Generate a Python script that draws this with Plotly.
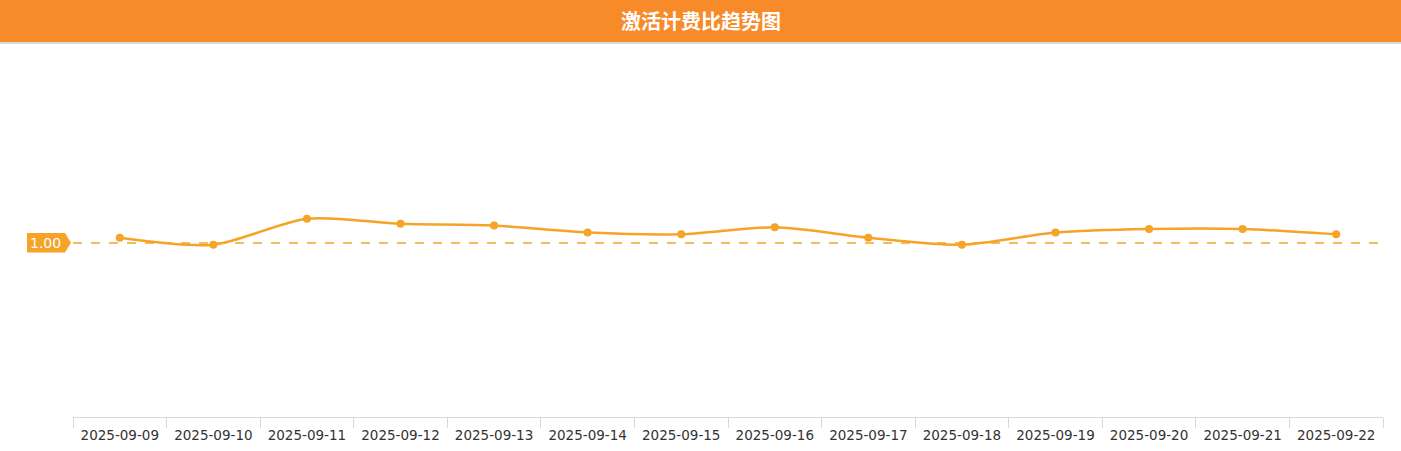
import plotly.graph_objects as go

dates = ["2025-09-09", "2025-09-10", "2025-09-11", "2025-09-12", "2025-09-13",
         "2025-09-14", "2025-09-15", "2025-09-16", "2025-09-17", "2025-09-18",
         "2025-09-19", "2025-09-20", "2025-09-21", "2025-09-22"]
ratio = [1.03, 0.99, 1.14, 1.11, 1.10, 1.06, 1.05, 1.09, 1.03, 0.99,
         1.06, 1.08, 1.08, 1.05]
ref_value = 1.00
ref_label = "1.00"
title = "激活计费比趋势图"

W, H = 1401, 451
L, R, T, B = 73, 18, 69, 34
PW, PH = W - L - R, H - T - B

ORANGE = "#F78A29"
LINE = "#F5A427"


def px(x):
    return (x - L) / PW


def py(y):
    return (H - B - y) / PH


fig = go.Figure()
fig.add_trace(go.Scatter(
    x=dates, y=ratio, mode="lines+markers",
    line=dict(color=LINE, width=2.5, shape="spline", smoothing=0.8),
    marker=dict(color=LINE, size=8),
    hoverinfo="x+y", showlegend=False, cliponaxis=False,
))

# reference line
fig.add_shape(type="line", xref="paper", yref="y", x0=0, x1=1, y0=ref_value, y1=ref_value,
              line=dict(color=LINE, width=1.3, dash="dash"), layer="below")

# title bar
fig.add_shape(type="rect", xref="paper", yref="paper", x0=px(0), x1=px(W), y0=py(42), y1=py(0),
              fillcolor=ORANGE, line=dict(width=0), layer="above")
fig.add_shape(type="rect", xref="paper", yref="paper", x0=px(0), x1=px(W), y0=py(44), y1=py(42),
              fillcolor="#DADADA", line=dict(width=0), layer="above")
fig.add_annotation(text="<b>" + title + "</b>", xref="paper", yref="paper", x=px(W / 2), y=py(21),
                   showarrow=False, xanchor="center", yanchor="middle",
                   font=dict(family="Noto Sans CJK SC", size=20, color="white"))

# reference label (pentagon)
y0p, y1p, ymp = py(252.5), py(233), py(242.7)
path = (f"M {px(27)},{y0p} L {px(65)},{y0p} L {px(71)},{ymp} "
        f"L {px(65)},{y1p} L {px(27)},{y1p} Z")
fig.add_shape(type="path", xref="paper", yref="paper", path=path,
              fillcolor=LINE, line=dict(width=0), layer="above")
fig.add_annotation(text=ref_label, xref="paper", yref="paper", x=px(45), y=py(242.7),
                   showarrow=False, xanchor="center", yanchor="middle",
                   font=dict(family="DejaVu Sans", size=14, color="white"))

fig.update_layout(
    width=W, height=H,
    margin=dict(l=L, r=R, t=T, b=B, autoexpand=False),
    paper_bgcolor="white", plot_bgcolor="white",
    xaxis=dict(type="category", range=[-0.5, len(dates) - 0.5], showgrid=False,
               showline=True, linecolor="#D5D8DE", linewidth=1,
               ticks="outside", tickson="boundaries", ticklen=10, tickcolor="#D5D8DE",
               ticklabelstandoff=6, automargin=False,
               tickfont=dict(family="DejaVu Sans", size=13.5, color="#333333"),
               zeroline=False, fixedrange=True),
    yaxis=dict(range=[0, 2], visible=False, showgrid=False, zeroline=False, fixedrange=True),
)

fig.write_html("out.html", config={"displayModeBar": False},
               post_script="document.body.style.margin='0';document.body.style.overflow='hidden';")
